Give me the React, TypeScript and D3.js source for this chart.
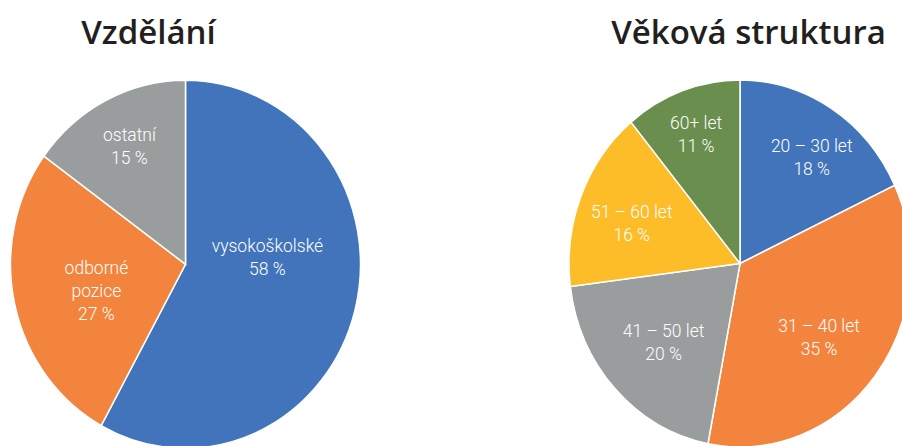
import React from "react";
import * as d3 from "d3";

const eduCategories = ["vysokoškolské", "odborné pozice", "ostatní"];
const eduLabelLines = [["vysokoškolské"], ["odborné", "pozice"], ["ostatní"]];
const eduValues = [58, 27, 15];

const ageCategories = ["20 – 30 let", "31 – 40 let", "41 – 50 let", "51 – 60 let", "60+ let"];
const ageValues = [18, 35, 20, 16, 11];

const eduColors = ["#4174BA", "#F2843E", "#9A9D9E"];
const ageColors = ["#4174BA", "#F2843E", "#9A9D9E", "#FDBD28", "#6A8E4D"];

type PieProps = {
  title: string;
  titleX: number;
  cx: number;
  cy: number;
  rx: number;
  ry: number;
  values: number[];
  lines: string[][];
  colors: string[];
  labelR: number[];
  labelShift: number[];
};

function Pie({ title, titleX, cx, cy, rx, ry, values, lines, colors, labelR, labelShift }: PieProps) {
  const pie = d3.pie<number>().sort(null).value((d) => d)(values);
  const arc = d3.arc<d3.PieArcDatum<number>>().innerRadius(0).outerRadius(rx);
  const sy = ry / rx;
  const lh = 23;
  return (
    <g>
      <text
        x={titleX}
        y={44}
        textAnchor="middle"
        fontFamily="'Open Sans', sans-serif"
        fontWeight={600}
        fontSize={33}
        fill="#231f20"
      >
        {title}
      </text>
      <g transform={`translate(${cx},${cy}) scale(1,${sy})`}>
        {pie.map((p, i) => (
          <path
            key={i}
            d={arc(p) || ""}
            fill={colors[i]}
            stroke="#fff"
            strokeWidth={1.5}
            vectorEffect="non-scaling-stroke"
          />
        ))}
      </g>
      {pie.map((p, i) => {
        const mid = (p.startAngle + p.endAngle) / 2 + (labelShift[i] * Math.PI) / 180;
        const d = labelR[i] * rx;
        const x = cx + d * Math.sin(mid);
        const y = cy - d * Math.cos(mid);
        const all = [...lines[i], `${values[i]} %`];
        const top = y - ((all.length - 1) * lh) / 2;
        return (
          <text
            key={i}
            textAnchor="middle"
            fontFamily="Roboto, sans-serif"
            fontWeight={300}
            fontSize={17.5}
            fill="#fff"
          >
            {all.map((t, j) => (
              <tspan key={j} x={x} y={top + j * lh + 6.5}>
                {t}
              </tspan>
            ))}
          </text>
        );
      })}
    </g>
  );
}

export default function App() {
  return (
    <svg
      width={902}
      height={446}
      style={{ position: "absolute", left: 0, top: 0, background: "#fff" }}
    >
      <Pie
        title="Vzdělání"
        titleX={148.5}
        cx={185.5}
        cy={264.3}
        rx={175}
        ry={184}
        values={eduValues}
        lines={eduLabelLines}
        colors={eduColors}
        labelR={[0.47, 0.53, 0.75]}
        labelShift={[-19.4, -3.6, 1.7]}
      />
      <Pie
        title="Věková struktura"
        titleX={748.5}
        cx={740}
        cy={263.5}
        rx={171}
        ry={183.5}
        values={ageValues}
        lines={ageCategories.map((c) => [c])}
        colors={ageColors}
        labelR={[0.75, 0.63, 0.64, 0.675, 0.8]}
        labelShift={[1.6, 4.9, -2.5, -1.3, 1.1]}
      />
    </svg>
  );
}
